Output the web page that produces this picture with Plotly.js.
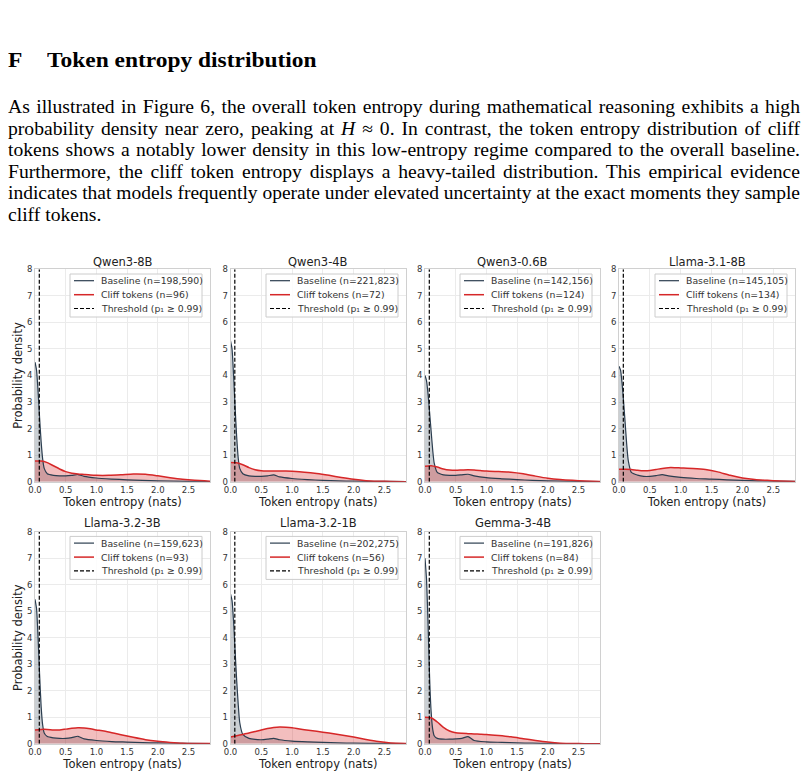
<!DOCTYPE html>
<html>
<head>
<meta charset="utf-8">
<script src="https://cdn.plot.ly/plotly-3.0.1.min.js"></script>
<style>
  html, body { margin: 0; padding: 0; background: #fff; }
  body { width: 808px; height: 778px; overflow: hidden; position: relative; }
  #chart { position: absolute; left: 0; top: 0; width: 808px; height: 778px; }
  .sec { position: absolute; top: 47px; font-family: "Liberation Serif", "Times New Roman", serif; font-weight: bold;
         font-size: 21.5px; line-height: 26px; white-space: nowrap; color: #000; transform-origin: 0 0; }
  #para { position: absolute; left: 8px; top: 97px; width: 792px; font-family: "Liberation Serif", "Times New Roman", serif;
          font-size: 18px; line-height: 21.5px; color: #000; }
  #para .ln { white-space: nowrap; height: 21.5px; }
  #para .ln span { display: inline-block; transform-origin: 0 0; }
</style>
</head>
<body>
<div id="chart"></div>
<div class="sec" id="secF" style="left:8px">F</div>
<div class="sec" id="secT" style="left:47px">Token entropy distribution</div>
<div id="para">
  <div class="ln"><span>As illustrated in Figure 6, the overall token entropy during mathematical reasoning exhibits a high</span></div>
  <div class="ln"><span>probability density near zero, peaking at <i>H</i> &#8776; 0. In contrast, the token entropy distribution of cliff</span></div>
  <div class="ln"><span>tokens shows a notably lower density in this low-entropy regime compared to the overall baseline.</span></div>
  <div class="ln"><span>Furthermore, the cliff token entropy displays a heavy-tailed distribution. This empirical evidence</span></div>
  <div class="ln"><span>indicates that models frequently operate under elevated uncertainty at the exact moments they sample</span></div>
  <div class="ln last"><span>cliff tokens.</span></div>
</div>
<script>
// ---------------- data ----------------
const models = ['Qwen3-8B', 'Qwen3-4B', 'Qwen3-0.6B', 'Llama-3.1-8B', 'Llama-3.2-3B', 'Llama-3.2-1B', 'Gemma-3-4B'];
const baselineN = ['198,590', '221,823', '142,156', '145,105', '159,623', '202,275', '191,826'];
const cliffN = [96, 72, 124, 134, 93, 56, 84];
const thresholdEntropy = 0.07;

const baselineX = [0, 0.025, 0.05, 0.075, 0.1, 0.125, 0.15, 0.2, 0.3, 0.4, 0.5, 0.6, 0.7, 0.8, 1.0, 1.25, 1.5, 1.75, 2.0, 2.5, 2.85];
const baselineQwen3_8B   = [4.5, 4.2, 3.4, 2.4, 1.5, 0.85, 0.5, 0.3, 0.24, 0.22, 0.22, 0.24, 0.27, 0.2, 0.14, 0.1, 0.07, 0.05, 0.03, 0.01, 0.005];
const baselineQwen3_4B   = [5.3, 5.0, 4.0, 2.8, 1.7, 0.9, 0.5, 0.3, 0.22, 0.2, 0.2, 0.22, 0.26, 0.18, 0.12, 0.08, 0.05, 0.03, 0.02, 0.01, 0.005];
const baselineQwen3_06B  = [4.0, 3.8, 3.3, 2.6, 1.9, 1.2, 0.7, 0.35, 0.26, 0.24, 0.24, 0.26, 0.28, 0.22, 0.15, 0.11, 0.08, 0.05, 0.03, 0.01, 0.005];
const baselineLlama31_8B = [4.35, 4.2, 3.7, 3.0, 2.2, 1.4, 0.8, 0.35, 0.25, 0.2, 0.2, 0.23, 0.27, 0.22, 0.16, 0.12, 0.1, 0.07, 0.05, 0.02, 0.01];
const baselineLlama32_3B = [5.45, 5.1, 4.0, 2.6, 1.4, 0.7, 0.4, 0.27, 0.22, 0.2, 0.2, 0.23, 0.28, 0.18, 0.12, 0.08, 0.06, 0.04, 0.03, 0.01, 0.005];
const baselineLlama32_1B = [5.65, 5.4, 4.6, 3.5, 2.4, 1.5, 0.8, 0.35, 0.2, 0.16, 0.15, 0.17, 0.2, 0.15, 0.1, 0.07, 0.05, 0.03, 0.02, 0.01, 0.005];
const baselineGemma3_4B  = [7.0, 6.2, 4.5, 2.5, 1.2, 0.55, 0.3, 0.2, 0.17, 0.17, 0.18, 0.2, 0.27, 0.12, 0.07, 0.05, 0.03, 0.02, 0.01, 0.005, 0];

const cliffX = [0, 0.1, 0.2, 0.3, 0.4, 0.5, 0.6, 0.7, 0.8, 0.9, 1.0, 1.2, 1.4, 1.6, 1.8, 2.0, 2.2, 2.4, 2.6, 2.85];
const cliffQwen3_8B   = [0.78, 0.78, 0.72, 0.6, 0.48, 0.38, 0.32, 0.29, 0.27, 0.25, 0.24, 0.24, 0.26, 0.29, 0.28, 0.22, 0.15, 0.09, 0.05, 0.02];
const cliffQwen3_4B   = [0.72, 0.71, 0.64, 0.53, 0.45, 0.41, 0.4, 0.4, 0.4, 0.4, 0.39, 0.36, 0.31, 0.24, 0.16, 0.09, 0.04, 0.02, 0.01, 0];
const cliffQwen3_06B  = [0.58, 0.6, 0.55, 0.48, 0.44, 0.43, 0.44, 0.45, 0.44, 0.42, 0.4, 0.38, 0.36, 0.3, 0.21, 0.13, 0.08, 0.05, 0.03, 0.01];
const cliffLlama31_8B = [0.47, 0.47, 0.46, 0.43, 0.41, 0.42, 0.46, 0.5, 0.53, 0.53, 0.52, 0.5, 0.46, 0.37, 0.24, 0.14, 0.08, 0.05, 0.03, 0.01];
const cliffLlama32_3B = [0.52, 0.54, 0.54, 0.52, 0.52, 0.55, 0.58, 0.6, 0.59, 0.56, 0.52, 0.44, 0.34, 0.24, 0.15, 0.09, 0.05, 0.02, 0.01, 0.01];
const cliffLlama32_1B = [0.25, 0.3, 0.35, 0.4, 0.46, 0.52, 0.57, 0.61, 0.63, 0.62, 0.6, 0.53, 0.47, 0.4, 0.33, 0.25, 0.16, 0.08, 0.03, 0.01];
const cliffGemma3_4B  = [1.0, 0.98, 0.82, 0.62, 0.48, 0.41, 0.39, 0.38, 0.37, 0.36, 0.35, 0.31, 0.26, 0.19, 0.12, 0.06, 0.02, 0.01, 0, 0];

const baselineSeries = [baselineQwen3_8B, baselineQwen3_4B, baselineQwen3_06B, baselineLlama31_8B, baselineLlama32_3B, baselineLlama32_1B, baselineGemma3_4B];
const cliffSeries = [cliffQwen3_8B, cliffQwen3_4B, cliffQwen3_06B, cliffLlama31_8B, cliffLlama32_3B, cliffLlama32_1B, cliffGemma3_4B];

const xTickVals = [0, 0.5, 1.0, 1.5, 2.0, 2.5];
const xTickText = ['0.0', '0.5', '1.0', '1.5', '2.0', '2.5'];
const yTickVals = [0, 1, 2, 3, 4, 5, 6, 7, 8];

// ---------------- layout geometry (pixels) ----------------
const W = 808, H = 778;
const colPx = [[35, 210], [230.5, 406], [425, 600], [619, 795]];
const rowPx = [[269.3, 481.7], [531.7, 743.7]];
const titleY = [262, 523];

const FONT = 'DejaVu Sans';
const BASE_LINE = '#2c3e50', BASE_FILL = 'rgba(44,62,80,0.25)';
const CLIFF_LINE = '#d62728', CLIFF_FILL = 'rgba(214,39,40,0.3)';
const px = v => v / W, py = v => 1 - v / H;

const traces = [];
const layout = {
  width: W, height: H,
  margin: {l: 0, r: 0, t: 0, b: 0},
  paper_bgcolor: 'rgba(0,0,0,0)', plot_bgcolor: '#ffffff',
  font: {family: FONT, color: '#333'},
  annotations: [], shapes: [],
  showlegend: false
};

models.forEach((m, i) => {
  const k = i + 1;
  const row = i < 4 ? 0 : 1, col = i % 4;
  const [x0, x1] = colPx[col];
  const [yt, yb] = rowPx[row];
  const xa = 'x' + (k === 1 ? '' : k), ya = 'y' + (k === 1 ? '' : k);

  const names = ['Baseline (n=' + baselineN[i] + ')', 'Cliff tokens (n=' + cliffN[i] + ')', 'Threshold (p\u2081 \u2265 0.99)'];
  const styles = [
    {width: 1.2, color: BASE_LINE},
    {width: 1.5, color: CLIFF_LINE},
    {width: 1.2, color: '#000', dash: '4px,2px'}
  ];

  traces.push({x: baselineX, y: baselineSeries[i], xaxis: xa, yaxis: ya, type: 'scatter', mode: 'lines',
    fill: 'tozeroy', fillcolor: BASE_FILL, line: {width: 0, color: BASE_LINE, shape: 'spline', smoothing: 0.6}, hoverinfo: 'skip'});
  traces.push({x: cliffX, y: cliffSeries[i], xaxis: xa, yaxis: ya, type: 'scatter', mode: 'lines',
    fill: 'tozeroy', fillcolor: CLIFF_FILL, line: {width: 0, color: CLIFF_LINE, shape: 'spline', smoothing: 0.6}, hoverinfo: 'skip'});
  traces.push({x: baselineX, y: baselineSeries[i], xaxis: xa, yaxis: ya, type: 'scatter', mode: 'lines',
    name: names[0], line: Object.assign({shape: 'spline', smoothing: 0.6}, styles[0])});
  traces.push({x: cliffX, y: cliffSeries[i], xaxis: xa, yaxis: ya, type: 'scatter', mode: 'lines',
    name: names[1], line: Object.assign({shape: 'spline', smoothing: 0.6}, styles[1])});
  traces.push({x: [thresholdEntropy, thresholdEntropy], y: [0, 8], xaxis: xa, yaxis: ya, type: 'scatter', mode: 'lines',
    name: names[2], line: styles[2]});

  const axKey = k === 1 ? '' : k;
  layout['xaxis' + axKey] = {
    domain: [px(x0), px(x1)], anchor: ya, range: [0, 2.85],
    tickvals: xTickVals, ticktext: xTickText, ticks: '',
    showgrid: true, gridcolor: '#ebebeb', gridwidth: 1, zeroline: false,
    showline: true, mirror: true, linecolor: '#d0d0d0', linewidth: 1,
    tickfont: {size: 8.5, color: '#333', family: FONT},
    title: {text: 'Token entropy (nats)', font: {size: 11.5, color: '#222', family: FONT}, standoff: 2},
    fixedrange: true
  };
  layout['yaxis' + axKey] = {
    domain: [py(yb), py(yt)], anchor: xa, range: [0, 8],
    tickvals: yTickVals, ticks: '',
    showgrid: true, gridcolor: '#ebebeb', gridwidth: 1, zeroline: false,
    showline: true, mirror: true, linecolor: '#d0d0d0', linewidth: 1,
    tickfont: {size: 8.5, color: '#333', family: FONT},
    title: col === 0 ? {text: 'Probability density', font: {size: 11.5, color: '#222', family: FONT}, standoff: 1} : {text: ''},
    fixedrange: true
  };

  // subplot title
  layout.annotations.push({
    text: m, xref: 'paper', yref: 'paper', x: px((x0 + x1) / 2), y: py(titleY[row]),
    xanchor: 'center', yanchor: 'middle', showarrow: false,
    font: {size: 11.5, color: '#222', family: FONT}
  });

  // legend box (matplotlib-style, drawn as shapes + text)
  const bw = 132, bR = x1 - 8, bL = bR - bw, bT = yt + 4.7, bB = yt + 47.7;
  layout.shapes.push({type: 'rect', xref: 'paper', yref: 'paper', x0: px(bL), x1: px(bR), y0: py(bB), y1: py(bT),
    fillcolor: 'rgba(255,255,255,0.85)', line: {color: '#cccccc', width: 1}, layer: 'above'});
  const rowOff = [11.4, 25.4, 39.2];
  names.forEach((nm, j) => {
    const yy = yt + rowOff[j];
    layout.shapes.push({type: 'line', xref: 'paper', yref: 'paper', x0: px(bL + 4), x1: px(bL + 24), y0: py(yy), y1: py(yy),
      line: {color: styles[j].color, width: styles[j].width, dash: styles[j].dash || 'solid'}, layer: 'above'});
    layout.annotations.push({text: nm, xref: 'paper', yref: 'paper', x: px(bL + 29), y: py(yy),
      xanchor: 'left', yanchor: 'middle', showarrow: false, font: {size: 9.3, color: '#333', family: FONT}});
  });
});

Plotly.newPlot('chart', traces, layout, {staticPlot: true, displayModeBar: false});

// text block: slight horizontal stretch as in the reference, then justify each line
function fitText() {
  const S = 1.09, target = 792;
  document.getElementById('secF').style.transform = 'scaleX(' + S + ')';
  document.getElementById('secT').style.transform = 'scaleX(' + S + ')';
  document.querySelectorAll('#para .ln').forEach(ln => {
    const sp = ln.querySelector('span');
    sp.style.wordSpacing = '0px';
    sp.style.transform = 'none';
    const w = sp.getBoundingClientRect().width;
    if (ln.classList.contains('last')) { sp.style.transform = 'scaleX(' + S + ')'; return; }
    const spaces = (sp.textContent.match(/ /g) || []).length;
    if (w * S <= target) {
      sp.style.transform = 'scaleX(' + S + ')';
      sp.style.wordSpacing = ((target / S - w) / spaces) + 'px';
    } else {
      sp.style.transform = 'scaleX(' + (target / w) + ')';
    }
  });
}
fitText();
if (document.fonts && document.fonts.ready) document.fonts.ready.then(fitText);
</script>
</body>
</html>
